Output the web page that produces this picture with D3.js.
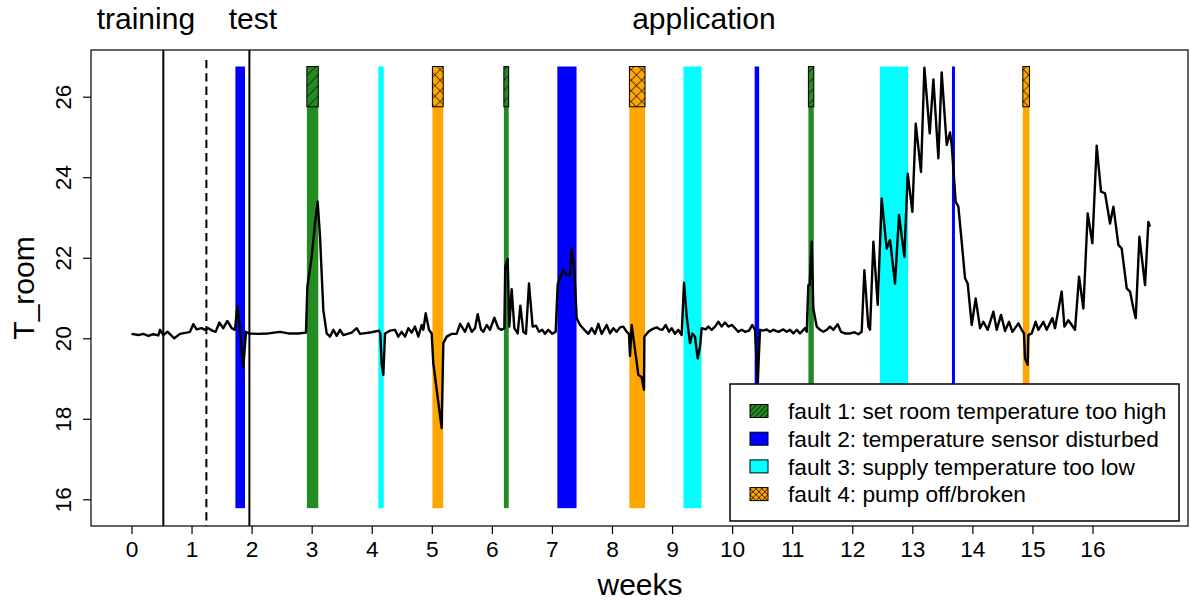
<!DOCTYPE html>
<html>
<head>
<meta charset="utf-8">
<style>
  body { margin: 0; background: #fff; }
  svg { display: block; font-family: 'Liberation Sans', Arial, sans-serif; }
</style>
</head>
<body>
<svg id="chart" width="1190" height="601"></svg>
<script src="https://cdn.jsdelivr.net/npm/d3@7/dist/d3.min.js"></script>
<script>
// room temperature series (weeks, degC)
const weeks = [
  0.00,0.114,0.197,0.280,0.363,0.447,0.475,0.530,0.602,0.713,0.808,0.919,0.974,1.029,1.085,1.168,1.224,1.279,1.346,1.401,
  1.462,1.529,1.596,1.668,1.723,1.762,1.807,1.862,1.906,1.956,2.112,2.278,2.473,2.611,2.778,2.905,2.928,3.000,3.055,3.100,
  3.139,3.194,3.250,3.305,3.361,3.416,3.472,3.527,3.666,3.749,3.805,3.999,4.121,4.143,4.165,4.193,4.221,4.304,4.387,4.443,
  4.498,4.554,4.609,4.665,4.720,4.776,4.831,4.859,4.898,4.953,4.998,5.025,5.164,5.192,5.248,5.331,5.414,5.470,5.553,
  5.608,5.664,5.719,5.764,5.819,5.858,5.914,5.969,6.041,6.108,6.163,6.208,6.224,6.263,6.291,6.330,6.374,6.430,6.474,6.524,
  6.568,6.618,6.679,6.735,6.785,6.840,6.885,6.940,7.007,7.062,7.096,7.135,7.190,7.246,7.301,7.329,7.373,7.412,7.468,7.540,
  7.606,7.662,7.717,7.773,7.828,7.912,7.967,8.023,8.078,8.134,8.189,8.245,8.283,8.300,8.328,8.383,8.439,8.494,8.533,8.539,
  8.605,8.661,8.744,8.800,8.838,8.894,8.949,8.994,9.049,9.105,9.160,9.199,9.244,9.299,9.338,9.382,9.427,9.466,9.493,9.560,
  9.604,9.660,9.715,9.771,9.826,9.882,9.937,9.993,10.048,10.104,10.159,10.215,10.281,10.337,10.381,10.426,10.465,10.520,10.576,10.631,
  10.687,10.770,10.853,10.909,10.964,11.020,11.075,11.131,11.214,
  11.242,11.269,11.291,11.325,11.352,11.408,11.464,11.519,11.575,11.630,11.686,11.758,11.813,11.880,11.963,12.035,12.102,12.157,12.202,12.268,
  12.296,12.352,12.424,12.490,12.573,12.629,12.712,12.779,12.868,12.923,13.001,13.057,13.145,13.201,13.290,13.351,13.434,13.489,13.573,13.628,
  13.656,13.722,13.767,13.822,13.878,13.922,13.989,14.055,14.128,14.183,14.255,14.350,14.405,14.477,14.544,14.611,14.666,14.766,14.821,14.860,
  14.877,14.921,14.932,14.988,15.054,15.099,15.182,15.237,15.332,15.376,15.487,15.532,15.598,15.654,15.709,15.776,15.848,15.920,15.998,16.070,
  16.142,16.209,16.292,16.348,16.431,16.486,16.570,16.625,16.681,16.720,16.781,16.875,16.930,16.958
];
const tRoom = [
  20.11,20.08,20.11,20.06,20.10,20.07,20.21,20.08,20.16,20.00,20.11,20.14,20.16,20.35,20.22,20.25,20.21,20.25,20.19,20.16,
  20.39,20.25,20.43,20.25,20.21,20.80,20.21,19.27,20.16,20.12,20.11,20.12,20.16,20.12,20.12,20.14,21.28,22.02,22.85,23.39,
  22.52,20.70,20.12,20.04,20.21,20.06,20.21,20.08,20.14,20.25,20.11,20.15,20.19,20.11,19.38,19.09,20.12,20.19,20.21,20.04,
  20.16,20.04,20.25,20.14,20.29,20.04,20.33,20.21,20.62,20.21,20.12,19.38,17.77,19.88,20.04,20.11,20.11,20.36,20.16,
  20.37,20.16,20.25,20.60,20.22,20.16,20.33,20.21,20.51,20.25,20.21,20.25,21.78,21.97,20.29,21.22,20.25,20.12,20.81,20.16,
  20.11,21.36,20.29,20.31,20.16,20.21,20.11,20.21,20.11,20.16,21.34,21.49,21.69,21.57,21.57,22.23,21.69,20.50,20.33,20.21,
  20.11,20.25,20.11,20.36,20.11,20.33,20.12,20.25,20.16,20.27,20.29,20.16,20.11,19.56,20.33,19.71,19.09,19.03,18.72,20.04,
  20.16,20.22,20.27,20.22,20.21,20.33,20.16,20.25,20.11,20.21,20.08,21.38,20.54,19.88,20.12,20.04,19.50,19.79,20.25,20.22,
  20.29,20.21,20.29,20.41,20.29,20.39,20.29,20.33,20.25,20.16,20.21,20.16,20.19,20.33,20.21,18.92,20.21,20.19,20.22,20.16,
  20.21,20.16,20.22,20.16,20.21,20.12,20.21,20.12,20.25,
  20.16,21.32,21.32,22.40,20.74,20.29,20.21,20.16,20.21,20.29,20.21,20.35,20.16,20.12,20.12,20.15,20.10,20.16,21.69,20.29,
  20.21,22.40,20.83,23.47,22.23,22.44,21.36,23.06,22.02,24.09,23.14,25.33,24.13,26.72,25.09,26.43,24.47,26.60,24.80,25.11,
  24.80,23.39,23.27,22.40,21.49,21.36,20.33,20.99,20.25,20.41,20.21,20.66,20.21,20.58,20.18,20.41,20.16,20.37,20.21,20.12,
  19.50,19.34,20.08,20.12,20.41,20.21,20.41,20.21,20.50,20.25,21.16,20.29,20.45,20.33,20.21,21.53,20.74,23.10,22.36,24.78,
  23.64,23.60,22.85,23.27,22.32,22.23,21.24,21.16,20.74,20.50,22.52,21.32,22.89,22.77
];

// fault periods (weeks) and fault number 1..4
const faultStart = [1.73, 2.92, 4.11, 5.01, 6.20, 7.09, 8.29, 9.19, 10.375, 11.27, 12.46, 13.66, 14.84];
const faultEnd   = [1.89, 3.11, 4.20, 5.19, 6.28, 7.41, 8.55, 9.49, 10.45, 11.36, 12.93, 13.71, 14.95];
const faultType  = [2, 1, 3, 4, 1, 2, 4, 3, 2, 1, 3, 2, 4];
const faultLabels = [
  "fault 1: set room temperature too high",
  "fault 2: temperature sensor disturbed",
  "fault 3: supply temperature too low",
  "fault 4: pump off/broken"
];

// phase separators and labels
const phaseBounds = [0.53, 1.247, 1.963];
const phaseDashed = [false, true, false];
const phaseLabels = ["training", "test", "application"];
const phaseLabelAt = [0.24, 2.02, 9.53];

const xTicks = [0,1,2,3,4,5,6,7,8,9,10,11,12,13,14,15,16];
const yTicks = [16, 18, 20, 22, 24, 26];

const faultColor = { 1: "#228B22", 2: "#0000FF", 3: "#00FFFF", 4: "#FFA500" };
const hatched = { 1: "url(#hatch1)", 4: "url(#hatch4)" };
const hatchedLegend = { 1: "url(#hatch1s)", 4: "url(#hatch4s)" };

const svg = d3.select("#chart");
const plot = { left: 91, right: 1188, top: 50, bottom: 526 };

const x = d3.scaleLinear().domain([-0.674, 17.59]).range([plot.left, plot.right]);
const y = d3.scaleLinear().domain([15.337, 27.16]).range([plot.bottom, plot.top]);

svg.append("rect").attr("width", 1190).attr("height", 601).attr("fill", "#fff");

// hatch patterns
const defs = svg.append("defs");
function hatch(id, color, size, cross) {
  const p = defs.append("pattern")
      .attr("id", id)
      .attr("patternUnits", "userSpaceOnUse")
      .attr("width", size).attr("height", size)
      .attr("patternTransform", "rotate(45)");
  p.append("rect").attr("width", size).attr("height", size).attr("fill", color);
  p.append("line").attr("x1", 0).attr("y1", 0).attr("x2", 0).attr("y2", size)
      .attr("stroke", "#000").attr("stroke-width", 1.2);
  if (cross) {
    p.append("line").attr("x1", 0).attr("y1", 0).attr("x2", size).attr("y2", 0)
        .attr("stroke", "#000").attr("stroke-width", 1.2);
  }
}
hatch("hatch1", faultColor[1], 7.5, false);
hatch("hatch4", faultColor[4], 7.5, true);
hatch("hatch1s", faultColor[1], 3.6, false);
hatch("hatch4s", faultColor[4], 4.2, true);

defs.append("clipPath").attr("id", "clip")
  .append("rect")
    .attr("x", plot.left).attr("y", plot.top)
    .attr("width", plot.right - plot.left).attr("height", plot.bottom - plot.top);

const faults = faultStart.map((s, i) => ({ s: s, e: faultEnd[i], t: faultType[i] }));

// fault bars
svg.append("g").selectAll("rect")
  .data(faults)
  .join("rect")
    .attr("x", d => x(d.s))
    .attr("width", d => x(d.e) - x(d.s))
    .attr("y", y(26.75))
    .attr("height", y(15.78) - y(26.75))
    .attr("fill", d => faultColor[d.t]);

// hatched marker boxes on top
svg.append("g").selectAll("rect")
  .data(faults.filter(d => hatched[d.t]))
  .join("rect")
    .attr("x", d => x(d.s))
    .attr("width", d => x(d.e) - x(d.s))
    .attr("y", y(26.75))
    .attr("height", y(25.75) - y(26.75))
    .attr("fill", d => hatched[d.t])
    .attr("stroke", "#000")
    .attr("stroke-width", 1);

// phase separators
svg.append("g").attr("clip-path", "url(#clip)").selectAll("line")
  .data(phaseBounds)
  .join("line")
    .attr("x1", d => x(d)).attr("x2", d => x(d))
    .attr("y1", (d, i) => phaseDashed[i] ? plot.top + 10 : plot.top)
    .attr("y2", plot.bottom)
    .attr("stroke", "#000")
    .attr("stroke-width", 2)
    .attr("stroke-dasharray", (d, i) => phaseDashed[i] ? "8.3,5" : null);

// series
const line = d3.line()
    .x((d, i) => x(weeks[i]))
    .y(d => y(d));

svg.append("path")
    .datum(tRoom)
    .attr("clip-path", "url(#clip)")
    .attr("fill", "none")
    .attr("stroke", "#000")
    .attr("stroke-width", 2.4)
    .attr("stroke-linejoin", "round")
    .attr("d", line);

// box
svg.append("rect")
    .attr("x", plot.left).attr("y", plot.top)
    .attr("width", plot.right - plot.left).attr("height", plot.bottom - plot.top)
    .attr("fill", "none").attr("stroke", "#000").attr("stroke-width", 1.2);

// axes
const xAxis = svg.append("g")
    .attr("transform", "translate(0," + plot.bottom + ")")
    .call(d3.axisBottom(x).tickValues(xTicks).tickSize(8).tickPadding(7).tickFormat(d3.format("d")));
xAxis.select(".domain").remove();
xAxis.selectAll("line").attr("stroke-width", 1.2);
xAxis.selectAll("text").attr("font-size", 22.7).attr("font-family", "'Liberation Sans', Arial, sans-serif").attr("fill", "#000");

const yAxis = svg.append("g")
    .attr("transform", "translate(" + plot.left + ",0)")
    .call(d3.axisLeft(y).tickValues(yTicks).tickSize(8).tickFormat(d3.format("d")));
yAxis.select(".domain").remove();
yAxis.selectAll("line").attr("stroke-width", 1.2);
yAxis.selectAll("text")
    .attr("x", null).attr("dy", null)
    .attr("text-anchor", "middle")
    .attr("transform", "translate(-20,0) rotate(-90)")
    .attr("font-size", 22.7)
    .attr("font-family", "'Liberation Sans', Arial, sans-serif")
    .attr("fill", "#000");

// axis titles
svg.append("text")
    .attr("x", (plot.left + plot.right) / 2 + 0.5)
    .attr("y", 595)
    .attr("text-anchor", "middle")
    .attr("font-size", 30)
    .text("weeks");

svg.append("text")
    .attr("transform", "translate(34," + (plot.top + plot.bottom) / 2 + ") rotate(-90)")
    .attr("text-anchor", "middle")
    .attr("font-size", 30)
    .text("T_room");

// phase labels
svg.append("g").selectAll("text")
  .data(phaseLabels)
  .join("text")
    .attr("x", (d, i) => x(phaseLabelAt[i]))
    .attr("y", 29)
    .attr("text-anchor", "middle")
    .attr("font-size", 30)
    .text(d => d);

// legend
const legend = svg.append("g");
legend.append("rect")
    .attr("x", 730).attr("y", 384)
    .attr("width", 449).attr("height", 137)
    .attr("fill", "#fff").attr("stroke", "#000").attr("stroke-width", 1.5);

const rows = legend.selectAll("g.row")
  .data(faultLabels)
  .join("g")
    .attr("class", "row")
    .attr("transform", (d, i) => "translate(750," + (411 + i * 27.7) + ")");

rows.append("rect")
    .attr("x", 0).attr("y", -6.5)
    .attr("width", 18).attr("height", 13)
    .attr("fill", (d, i) => hatchedLegend[i + 1] || faultColor[i + 1])
    .attr("stroke", "#000").attr("stroke-width", 1);

rows.append("text")
    .attr("x", 38)
    .attr("dy", "0.36em")
    .attr("font-size", 22.7)
    .text(d => d);
</script>
</body>
</html>
